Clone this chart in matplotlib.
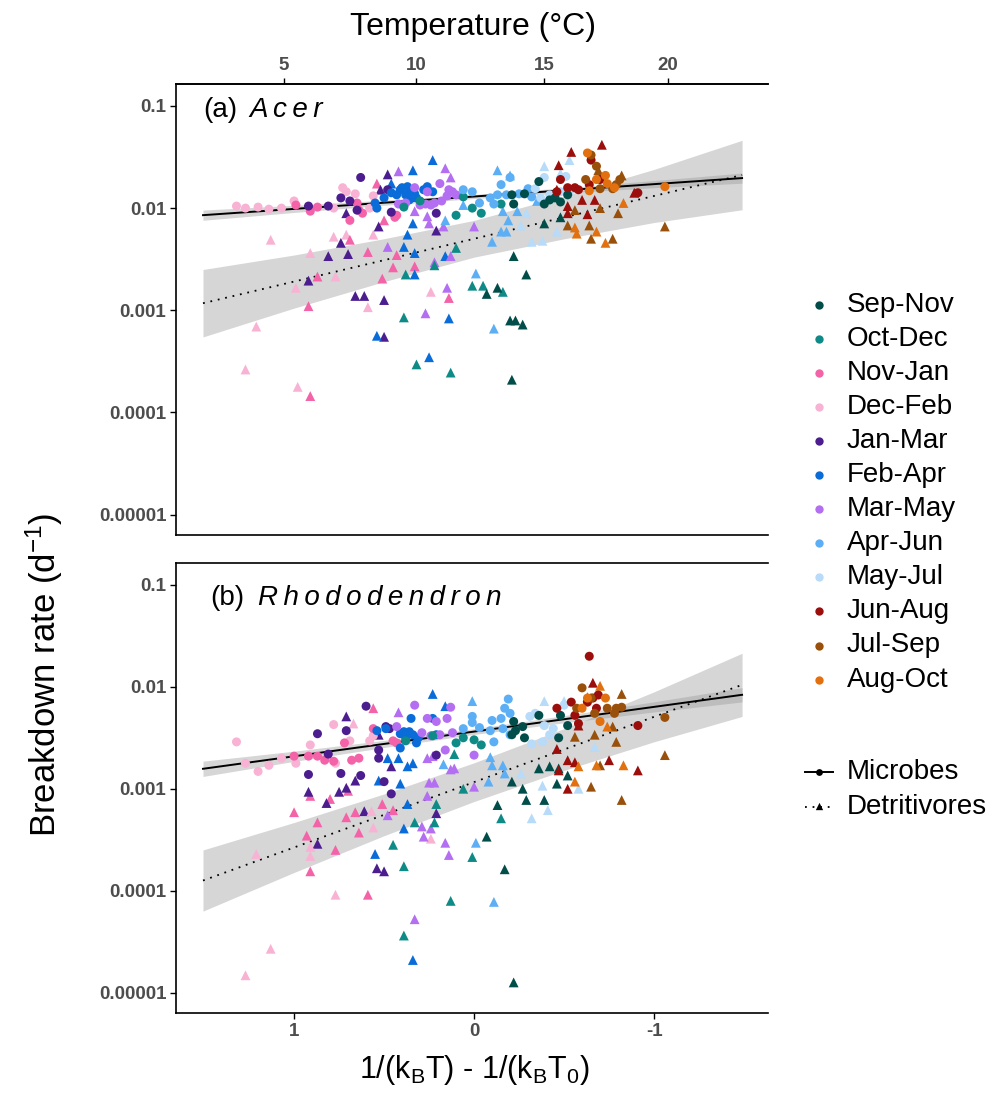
import numpy as np
import pandas as pd
import matplotlib
matplotlib.use("Agg")
import matplotlib.pyplot as plt

plt.rcParams["font.family"] = ["Liberation Sans", "DejaVu Sans"]
plt.rcParams["mathtext.fontset"] = "custom"
plt.rcParams["mathtext.rm"] = "Liberation Sans"
plt.rcParams["mathtext.default"] = "regular"

# ---------------------------------------------------------------- categories
seasons = ["Sep-Nov", "Oct-Dec", "Nov-Jan", "Dec-Feb", "Jan-Mar", "Feb-Apr",
           "Mar-May", "Apr-Jun", "May-Jul", "Jun-Aug", "Jul-Sep", "Aug-Oct"]
season_colors = ["#014D4A", "#0F8B87", "#F462A8", "#F8B3D4", "#4B1D8F", "#0A6CD9",
                 "#B46EF2", "#5CAFF5", "#B7DBF8", "#9B0E0B", "#99500B", "#E2700F"]

# ---------------------------------------------------------------- points
# (season, 1/(kBT) - 1/(kBT0), log10 breakdown rate [d-1])
acer_microbes = [
    ("Dec-Feb", 1.32, -1.98), ("Dec-Feb", 1.27, -2.00), ("Dec-Feb", 1.20, -1.99),
    ("Dec-Feb", 1.14, -2.01), ("Dec-Feb", 1.07, -2.00), ("Dec-Feb", 1.00, -1.93),
    ("Dec-Feb", 0.78, -2.00), ("Dec-Feb", 0.73, -1.80), ("Dec-Feb", 0.71, -1.84),
    ("Dec-Feb", 0.66, -1.86), ("Dec-Feb", 0.58, -2.00), ("Dec-Feb", 0.56, -1.88),
    ("Nov-Jan", 0.99, -1.97), ("Nov-Jan", 0.91, -2.03), ("Nov-Jan", 0.87, -1.99),
    ("Nov-Jan", 0.69, -2.12), ("Nov-Jan", 0.64, -2.02), ("Nov-Jan", 0.62, -2.05),
    ("Nov-Jan", 0.44, -2.09), ("Nov-Jan", 0.43, -2.07), ("Nov-Jan", 0.65, -1.95),
    ("Jan-Mar", 0.92, -1.98), ("Jan-Mar", 0.81, -1.98), ("Jan-Mar", 0.74, -1.90),
    ("Jan-Mar", 0.69, -1.93), ("Jan-Mar", 0.63, -1.70), ("Jan-Mar", 0.65, -2.02),
    ("Jan-Mar", 0.48, -1.82), ("Jan-Mar", 0.21, -2.05), ("Jan-Mar", 0.46, -2.04),
    ("Feb-Apr", 0.54, -2.00), ("Feb-Apr", 0.50, -1.90), ("Feb-Apr", 0.46, -1.85),
    ("Feb-Apr", 0.41, -1.82), ("Feb-Apr", 0.38, -1.87), ("Feb-Apr", 0.37, -1.79),
    ("Feb-Apr", 0.35, -1.84), ("Feb-Apr", 0.32, -1.90), ("Feb-Apr", 0.28, -1.82),
    ("Feb-Apr", 0.23, -1.84), ("Feb-Apr", 0.43, -1.87), ("Feb-Apr", 0.40, -1.80),
    ("Feb-Apr", 0.36, -1.92), ("Feb-Apr", 0.33, -1.86), ("Feb-Apr", 0.55, -1.95),
    ("Feb-Apr", 0.26, -1.79),
    ("Mar-May", 0.26, -1.84), ("Mar-May", 0.24, -1.97), ("Mar-May", 0.19, -1.76),
    ("Mar-May", 0.15, -1.88), ("Mar-May", 0.12, -1.84), ("Mar-May", 0.38, -1.95),
    ("Mar-May", 0.30, -1.97), ("Mar-May", 0.27, -1.96), ("Mar-May", 0.22, -1.95),
    ("Mar-May", 0.18, -1.93), ("Mar-May", 0.42, -1.96), ("Mar-May", 0.14, -1.82),
    ("Mar-May", 0.10, -1.87), ("Mar-May", 0.33, -1.80),
    ("Oct-Dec", 0.39, -1.99), ("Oct-Dec", 0.06, -1.89), ("Oct-Dec", 0.10, -2.07),
    ("Oct-Dec", 0.30, -1.93), ("Oct-Dec", -0.04, -2.05), ("Oct-Dec", -0.15, -1.96),
    ("Oct-Dec", 0.01, -2.00),
    ("Apr-Jun", 0.06, -1.82), ("Apr-Jun", 0.01, -1.84), ("Apr-Jun", -0.09, -1.90),
    ("Apr-Jun", -0.13, -1.87), ("Apr-Jun", -0.15, -1.77), ("Apr-Jun", -0.18, -1.87),
    ("Apr-Jun", -0.25, -1.86), ("Apr-Jun", -0.30, -1.81), ("Apr-Jun", -0.32, -1.89),
    ("Apr-Jun", -0.20, -1.70), ("Apr-Jun", -0.11, -1.96), ("Apr-Jun", -0.03, -1.95),
    ("May-Jul", -0.34, -1.81), ("May-Jul", -0.39, -1.70), ("May-Jul", -0.42, -1.87),
    ("May-Jul", -0.51, -1.69), ("May-Jul", -0.53, -1.84), ("May-Jul", -0.48, -1.84),
    ("May-Jul", -0.37, -1.90),
    ("Sep-Nov", -0.21, -1.87), ("Sep-Nov", -0.22, -1.96), ("Sep-Nov", -0.36, -1.74),
    ("Sep-Nov", -0.39, -1.96), ("Sep-Nov", -0.45, -1.90), ("Sep-Nov", -0.48, -1.94),
    ("Sep-Nov", -0.52, -1.87), ("Sep-Nov", -0.28, -1.86), ("Sep-Nov", -0.42, -1.92),
    ("Jun-Aug", -0.46, -1.84), ("Jun-Aug", -0.48, -1.72), ("Jun-Aug", -0.56, -1.80),
    ("Jun-Aug", -0.64, -1.77), ("Jun-Aug", -0.65, -1.53), ("Jun-Aug", -0.70, -1.72),
    ("Jun-Aug", -0.91, -1.85), ("Jun-Aug", -0.58, -1.82), ("Jun-Aug", -0.52, -1.80),
    ("Jul-Sep", -0.65, -1.48), ("Jul-Sep", -0.68, -1.59), ("Jul-Sep", -0.62, -1.72),
    ("Jul-Sep", -0.79, -1.77), ("Jul-Sep", -0.81, -1.72), ("Jul-Sep", -0.77, -1.81),
    ("Jul-Sep", -0.70, -1.81),
    ("Aug-Oct", -0.63, -1.46), ("Aug-Oct", -0.73, -1.68), ("Aug-Oct", -0.74, -1.76),
    ("Aug-Oct", -1.06, -1.79), ("Aug-Oct", -0.64, -1.83), ("Aug-Oct", -0.78, -1.80),
    ("Aug-Oct", -0.68, -1.72),
]

acer_detritivores = [
    ("Dec-Feb", 1.13, -2.31), ("Dec-Feb", 0.78, -2.28), ("Dec-Feb", 0.71, -2.26),
    ("Dec-Feb", 0.56, -2.26), ("Dec-Feb", 1.27, -3.58), ("Dec-Feb", 1.21, -3.16),
    ("Dec-Feb", 0.98, -3.75), ("Dec-Feb", 0.99, -2.78), ("Dec-Feb", 0.77, -2.67),
    ("Dec-Feb", 0.91, -2.44), ("Dec-Feb", 0.59, -2.97), ("Dec-Feb", 0.24, -2.82),
    ("Nov-Jan", 0.69, -2.31), ("Nov-Jan", 0.54, -1.76), ("Nov-Jan", 0.50, -2.12),
    ("Nov-Jan", 0.91, -3.84), ("Nov-Jan", 0.92, -2.96), ("Nov-Jan", 0.87, -2.67),
    ("Nov-Jan", 0.59, -2.43), ("Nov-Jan", 0.51, -2.69), ("Nov-Jan", 0.45, -2.58),
    ("Nov-Jan", 0.43, -2.46), ("Nov-Jan", 0.33, -2.57), ("Nov-Jan", 0.14, -2.88),
    ("Jan-Mar", 0.53, -2.18), ("Jan-Mar", 0.48, -1.67), ("Jan-Mar", 0.52, -1.82),
    ("Jan-Mar", 0.74, -2.34), ("Jan-Mar", 0.71, -2.05), ("Jan-Mar", 0.21, -2.22),
    ("Jan-Mar", 0.92, -2.71), ("Jan-Mar", 0.81, -2.47), ("Jan-Mar", 0.70, -2.45),
    ("Jan-Mar", 0.66, -2.86), ("Jan-Mar", 0.61, -2.86), ("Jan-Mar", 0.50, -2.90),
    ("Jan-Mar", 0.50, -3.26),
    ("Feb-Apr", 0.23, -1.53), ("Feb-Apr", 0.34, -1.63), ("Feb-Apr", 0.46, -1.76),
    ("Feb-Apr", 0.34, -2.15), ("Feb-Apr", 0.37, -2.26), ("Feb-Apr", 0.39, -2.38),
    ("Feb-Apr", 0.33, -2.44), ("Feb-Apr", 0.33, -2.65), ("Feb-Apr", 0.16, -2.47),
    ("Feb-Apr", 0.14, -3.08), ("Feb-Apr", 0.54, -3.25), ("Feb-Apr", 0.25, -3.46),
    ("Mar-May", 0.42, -1.64), ("Mar-May", 0.16, -1.61), ("Mar-May", 0.13, -1.70),
    ("Mar-May", 0.33, -2.03), ("Mar-May", 0.26, -2.08), ("Mar-May", 0.25, -2.15),
    ("Mar-May", 0.17, -2.18), ("Mar-May", 0.48, -2.38), ("Mar-May", 0.22, -2.53),
    ("Mar-May", 0.13, -2.47), ("Mar-May", 0.15, -2.78), ("Mar-May", 0.27, -3.03),
    ("Mar-May", 0.00, -2.18),
    ("Oct-Dec", 0.10, -2.39), ("Oct-Dec", 0.38, -2.65), ("Oct-Dec", 0.22, -2.56),
    ("Oct-Dec", 0.39, -3.07), ("Oct-Dec", 0.32, -3.53), ("Oct-Dec", 0.13, -3.61),
    ("Oct-Dec", 0.01, -2.76), ("Oct-Dec", -0.05, -2.76), ("Oct-Dec", -0.16, -2.82),
    ("Apr-Jun", 0.16, -2.12), ("Apr-Jun", 0.06, -1.97), ("Apr-Jun", -0.01, -2.64),
    ("Apr-Jun", -0.11, -3.18), ("Apr-Jun", -0.13, -1.63), ("Apr-Jun", -0.20, -1.68),
    ("Apr-Jun", -0.10, -2.33), ("Apr-Jun", -0.15, -2.23), ("Apr-Jun", -0.18, -2.23),
    ("Apr-Jun", -0.19, -2.12), ("Apr-Jun", -0.24, -2.03), ("Apr-Jun", -0.16, -2.03),
    ("Apr-Jun", -0.35, -1.93),
    ("Sep-Nov", -0.07, -2.84), ("Sep-Nov", -0.13, -2.78), ("Sep-Nov", -0.22, -2.47),
    ("Sep-Nov", -0.29, -2.65), ("Sep-Nov", -0.20, -3.10), ("Sep-Nov", -0.23, -3.10),
    ("Sep-Nov", -0.27, -3.14), ("Sep-Nov", -0.21, -3.68), ("Sep-Nov", -0.39, -2.15),
    ("Sep-Nov", -0.48, -2.09),
    ("May-Jul", -0.53, -1.53), ("May-Jul", -0.39, -1.59), ("May-Jul", -0.32, -2.33),
    ("May-Jul", -0.38, -2.32), ("May-Jul", -0.26, -2.17), ("May-Jul", -0.46, -2.23),
    ("May-Jul", -0.29, -2.05), ("May-Jul", -0.48, -1.66),
    ("Jun-Aug", -0.71, -1.38), ("Jun-Aug", -0.54, -1.45), ("Jun-Aug", -0.47, -1.58),
    ("Jun-Aug", -0.46, -1.82), ("Jun-Aug", -0.60, -1.92), ("Jun-Aug", -0.52, -1.98),
    ("Jun-Aug", -0.52, -2.05), ("Jun-Aug", -0.67, -1.92), ("Jun-Aug", -0.63, -2.06),
    ("Jun-Aug", -0.89, -1.85),
    ("Jul-Sep", -0.82, -1.68), ("Jul-Sep", -0.69, -1.63), ("Jul-Sep", -0.56, -2.02),
    ("Jul-Sep", -0.70, -2.00), ("Jul-Sep", -0.64, -2.17), ("Jul-Sep", -0.80, -2.05),
    ("Jul-Sep", -0.77, -2.30), ("Jul-Sep", -0.65, -2.30), ("Jul-Sep", -1.06, -2.18),
    ("Jul-Sep", -0.52, -2.17),
    ("Aug-Oct", -0.83, -1.95), ("Aug-Oct", -0.57, -2.25), ("Aug-Oct", -0.68, -2.23),
    ("Aug-Oct", -0.73, -2.34), ("Aug-Oct", -0.56, -2.19),
]

rhodo_microbes = [
    ("Dec-Feb", 1.32, -2.54), ("Dec-Feb", 1.27, -2.75), ("Dec-Feb", 1.20, -2.83),
    ("Dec-Feb", 1.14, -2.77), ("Dec-Feb", 1.07, -2.70), ("Dec-Feb", 0.99, -2.75),
    ("Dec-Feb", 0.91, -2.57), ("Dec-Feb", 0.78, -2.37), ("Dec-Feb", 0.82, -2.70),
    ("Dec-Feb", 0.77, -2.75), ("Dec-Feb", 0.69, -2.53), ("Dec-Feb", 0.58, -2.53),
    ("Dec-Feb", 0.56, -2.48),
    ("Nov-Jan", 1.00, -2.68), ("Nov-Jan", 0.92, -2.68), ("Nov-Jan", 0.87, -2.68),
    ("Nov-Jan", 0.83, -2.72), ("Nov-Jan", 0.78, -2.73), ("Nov-Jan", 0.72, -2.55),
    ("Nov-Jan", 0.68, -2.72), ("Nov-Jan", 0.64, -2.70), ("Nov-Jan", 0.56, -2.41),
    ("Nov-Jan", 0.45, -2.53), ("Nov-Jan", 0.43, -2.55),
    ("Jan-Mar", 0.60, -2.19), ("Jan-Mar", 0.87, -2.46), ("Jan-Mar", 0.71, -2.43),
    ("Jan-Mar", 0.81, -2.66), ("Jan-Mar", 0.92, -2.86), ("Jan-Mar", 0.74, -2.85),
    ("Jan-Mar", 0.63, -2.87), ("Jan-Mar", 0.53, -2.62), ("Jan-Mar", 0.53, -2.70),
    ("Jan-Mar", 0.49, -2.39), ("Jan-Mar", 0.47, -2.41), ("Jan-Mar", 0.21, -2.67),
    ("Jan-Mar", 0.50, -2.93), ("Jan-Mar", 0.46, -3.05),
    ("Feb-Apr", 0.54, -2.43), ("Feb-Apr", 0.49, -2.41), ("Feb-Apr", 0.41, -2.46),
    ("Feb-Apr", 0.39, -2.44), ("Feb-Apr", 0.36, -2.44), ("Feb-Apr", 0.34, -2.47),
    ("Feb-Apr", 0.31, -2.50), ("Feb-Apr", 0.35, -2.31), ("Feb-Apr", 0.23, -2.31),
    ("Feb-Apr", 0.41, -2.60), ("Feb-Apr", 0.32, -2.55), ("Feb-Apr", 0.21, -2.47),
    ("Feb-Apr", 0.38, -2.50),
    ("Mar-May", 0.43, -2.39), ("Mar-May", 0.33, -2.18), ("Mar-May", 0.26, -2.31),
    ("Mar-May", 0.21, -2.34), ("Mar-May", 0.15, -2.31), ("Mar-May", 0.13, -2.20),
    ("Mar-May", 0.19, -2.47), ("Mar-May", 0.16, -2.62), ("Mar-May", 0.29, -2.45),
    ("Mar-May", 0.12, -2.45), ("Mar-May", 0.24, -2.48), ("Mar-May", 0.00, -2.67),
    ("Oct-Dec", 0.38, -2.53), ("Oct-Dec", 0.23, -2.48), ("Oct-Dec", 0.10, -2.55),
    ("Oct-Dec", 0.00, -2.52), ("Oct-Dec", -0.04, -2.57), ("Oct-Dec", 0.06, -2.50),
    ("Apr-Jun", 0.06, -2.41), ("Apr-Jun", 0.01, -2.29), ("Apr-Jun", 0.01, -2.35),
    ("Apr-Jun", -0.10, -2.33), ("Apr-Jun", -0.15, -2.31), ("Apr-Jun", -0.17, -2.21),
    ("Apr-Jun", -0.19, -2.12), ("Apr-Jun", -0.20, -2.26), ("Apr-Jun", -0.16, -2.41),
    ("Apr-Jun", -0.09, -2.43), ("Apr-Jun", -0.11, -2.54), ("Apr-Jun", -0.20, -2.47),
    ("Apr-Jun", -0.03, -2.40),
    ("May-Jul", -0.31, -2.29), ("May-Jul", -0.34, -2.26), ("May-Jul", -0.32, -2.56),
    ("May-Jul", -0.38, -2.54), ("May-Jul", -0.39, -2.38), ("May-Jul", -0.42, -2.47),
    ("May-Jul", -0.44, -2.41), ("May-Jul", -0.50, -2.18),
    ("Sep-Nov", -0.22, -2.34), ("Sep-Nov", -0.23, -2.43), ("Sep-Nov", -0.27, -2.39),
    ("Sep-Nov", -0.28, -2.50), ("Sep-Nov", -0.36, -2.28), ("Sep-Nov", -0.47, -2.50),
    ("Sep-Nov", -0.48, -2.28), ("Sep-Nov", -0.52, -2.38), ("Sep-Nov", -0.21, -2.47),
    ("Jun-Aug", -0.64, -1.70), ("Jun-Aug", -0.46, -2.21), ("Jun-Aug", -0.54, -2.15),
    ("Jun-Aug", -0.58, -2.36), ("Jun-Aug", -0.68, -2.21), ("Jun-Aug", -0.66, -2.11),
    ("Jun-Aug", -0.91, -2.38), ("Jun-Aug", -0.69, -2.08), ("Jun-Aug", -0.63, -2.15),
    ("Jun-Aug", -0.56, -2.28),
    ("Jul-Sep", -0.60, -2.01), ("Jul-Sep", -0.65, -2.11), ("Jul-Sep", -0.74, -2.21),
    ("Jul-Sep", -0.79, -2.21), ("Jul-Sep", -0.82, -2.20), ("Jul-Sep", -0.78, -2.26),
    ("Jul-Sep", -0.67, -2.26), ("Jul-Sep", -1.06, -2.30), ("Jul-Sep", -0.57, -2.21),
    ("Aug-Oct", -0.73, -2.11), ("Aug-Oct", -0.63, -2.11), ("Aug-Oct", -0.60, -2.21),
    ("Aug-Oct", -0.70, -2.34),
]

rhodo_detritivores = [
    ("Nov-Jan", 0.56, -2.21), ("Nov-Jan", 0.91, -3.07), ("Nov-Jan", 0.80, -3.10),
    ("Nov-Jan", 0.70, -3.02), ("Nov-Jan", 1.00, -3.23), ("Nov-Jan", 0.87, -3.33),
    ("Nov-Jan", 0.93, -3.46), ("Nov-Jan", 0.91, -3.81), ("Nov-Jan", 0.77, -3.60),
    ("Nov-Jan", 0.71, -3.28), ("Nov-Jan", 0.66, -3.23), ("Nov-Jan", 0.64, -3.43),
    ("Nov-Jan", 0.51, -3.15), ("Nov-Jan", 0.45, -3.21), ("Nov-Jan", 0.59, -4.04),
    ("Jan-Mar", 0.71, -2.29), ("Jan-Mar", 0.53, -2.47), ("Jan-Mar", 0.46, -2.78),
    ("Jan-Mar", 0.92, -3.03), ("Jan-Mar", 0.82, -3.14), ("Jan-Mar", 0.75, -3.03),
    ("Jan-Mar", 0.71, -2.99), ("Jan-Mar", 0.66, -2.92), ("Jan-Mar", 0.87, -3.54),
    ("Jan-Mar", 0.61, -3.22), ("Jan-Mar", 0.54, -3.78), ("Jan-Mar", 0.50, -3.81),
    ("Jan-Mar", 0.21, -3.24),
    ("Dec-Feb", 0.67, -2.36), ("Dec-Feb", 0.91, -3.57), ("Dec-Feb", 0.91, -3.66),
    ("Dec-Feb", 1.21, -3.64), ("Dec-Feb", 0.57, -3.22), ("Dec-Feb", 0.56, -3.38),
    ("Dec-Feb", 0.24, -3.49), ("Dec-Feb", 0.77, -4.04), ("Dec-Feb", 1.13, -4.57),
    ("Dec-Feb", 1.27, -4.83),
    ("Mar-May", 0.42, -2.25), ("Mar-May", 0.26, -2.70), ("Mar-May", 0.23, -2.68),
    ("Mar-May", 0.13, -2.81), ("Mar-May", 0.11, -2.80), ("Mar-May", 0.48, -3.26),
    ("Mar-May", 0.29, -3.37), ("Mar-May", 0.24, -3.39), ("Mar-May", 0.28, -3.47),
    ("Mar-May", 0.26, -3.07), ("Mar-May", 0.25, -2.94), ("Mar-May", 0.22, -2.94),
    ("Mar-May", 0.16, -3.53), ("Mar-May", 0.14, -3.65), ("Mar-May", 0.33, -4.28),
    ("Mar-May", 0.00, -2.98),
    ("Feb-Apr", 0.23, -2.07), ("Feb-Apr", 0.16, -2.19), ("Feb-Apr", 0.48, -2.70),
    ("Feb-Apr", 0.42, -2.70), ("Feb-Apr", 0.37, -2.78), ("Feb-Apr", 0.34, -2.75),
    ("Feb-Apr", 0.53, -2.92), ("Feb-Apr", 0.41, -2.95), ("Feb-Apr", 0.37, -3.15),
    ("Feb-Apr", 0.39, -3.39), ("Feb-Apr", 0.55, -3.64), ("Feb-Apr", 0.34, -4.68),
    ("Oct-Dec", 0.11, -2.66), ("Oct-Dec", 0.33, -3.33), ("Oct-Dec", 0.21, -3.15),
    ("Oct-Dec", 0.22, -3.33), ("Oct-Dec", 0.45, -3.55), ("Oct-Dec", 0.39, -3.76),
    ("Oct-Dec", 0.13, -4.10), ("Oct-Dec", 0.39, -4.44), ("Oct-Dec", 0.06, -3.00),
    ("Oct-Dec", 0.01, -3.67), ("Oct-Dec", -0.15, -3.29),
    ("Apr-Jun", 0.17, -2.76), ("Apr-Jun", -0.01, -3.53), ("Apr-Jun", -0.11, -4.11),
    ("Apr-Jun", 0.01, -2.14), ("Apr-Jun", -0.09, -2.69), ("Apr-Jun", -0.10, -2.77),
    ("Apr-Jun", -0.16, -2.77), ("Apr-Jun", -0.08, -2.93), ("Apr-Jun", -0.17, -2.85),
    ("Sep-Nov", -0.17, -3.79), ("Sep-Nov", -0.22, -4.90), ("Sep-Nov", -0.36, -2.80),
    ("Sep-Nov", -0.42, -2.78), ("Sep-Nov", -0.47, -2.80), ("Sep-Nov", -0.52, -2.87),
    ("Sep-Nov", -0.46, -2.95), ("Sep-Nov", -0.21, -2.93), ("Sep-Nov", -0.27, -3.00),
    ("Sep-Nov", -0.29, -3.11), ("Sep-Nov", -0.39, -3.11), ("Sep-Nov", -0.13, -3.16),
    ("Sep-Nov", -0.07, -3.47),
    ("May-Jul", -0.39, -2.14), ("May-Jul", -0.67, -2.59), ("May-Jul", -0.50, -2.14),
    ("May-Jul", -0.38, -2.97), ("May-Jul", -0.41, -3.21), ("May-Jul", -0.32, -3.29),
    ("May-Jul", -0.26, -2.85), ("May-Jul", -0.58, -3.00),
    ("Jun-Aug", -0.66, -1.96), ("Jun-Aug", -0.46, -2.61), ("Jun-Aug", -0.52, -2.72),
    ("Jun-Aug", -0.56, -2.74), ("Jun-Aug", -0.47, -2.82), ("Jun-Aug", -0.52, -3.00),
    ("Jun-Aug", -0.75, -2.72), ("Jun-Aug", -0.91, -2.82), ("Jun-Aug", -0.58, -2.38),
    ("Jul-Sep", -0.82, -2.07), ("Jul-Sep", -0.56, -2.49), ("Jul-Sep", -0.67, -2.47),
    ("Jul-Sep", -0.77, -2.39), ("Jul-Sep", -0.79, -2.54), ("Jul-Sep", -1.06, -2.67),
    ("Jul-Sep", -0.70, -2.77), ("Jul-Sep", -0.65, -2.98), ("Jul-Sep", -0.82, -3.11),
    ("Aug-Oct", -0.70, -1.99), ("Aug-Oct", -0.63, -2.10), ("Aug-Oct", -0.74, -2.39),
    ("Aug-Oct", -0.68, -2.77), ("Aug-Oct", -0.83, -2.77), ("Aug-Oct", -0.58, -2.78),
    ("Aug-Oct", -0.56, -2.93),
]

# ---------------------------------------------------------------- fitted lines
# log10 k = intercept + slope * x, drawn over 2..23 degC
fit_x = [1.506, 1.0, 0.5, 0.0, -0.5, -1.0, -1.489]
acer_mic_fit = (-1.8865, -0.1212)
acer_det_fit = (-2.300, -0.4190)
rhodo_mic_fit = (-2.439, -0.2424)
rhodo_det_fit = (-2.935, -0.6410)
# confidence band half-width (log10 units) at fit_x
acer_mic_hw = [0.05, 0.035, 0.025, 0.02, 0.025, 0.035, 0.05]
acer_det_hw = [0.33, 0.26, 0.21, 0.18, 0.21, 0.26, 0.34]
rhodo_mic_hw = [0.075, 0.05, 0.035, 0.028, 0.035, 0.05, 0.07]
rhodo_det_hw = [0.30, 0.245, 0.205, 0.19, 0.205, 0.245, 0.31]

ytick_vals = [1e-5, 1e-4, 1e-3, 1e-2, 1e-1]
ytick_labels = ["0.00001", "0.0001", "0.001", "0.01", "0.1"]
xtick_vals = [1, 0, -1]
temp_ticks = [5, 10, 15, 20]

KB = 8.617e-5
T0 = 285.39  # reference temperature (K)


def x_to_temp(x):
    x = np.asarray(x, dtype=float)
    return 1.0 / (KB * (x + 1.0 / (KB * T0))) - 273.15


def temp_to_x(t):
    t = np.asarray(t, dtype=float)
    return 1.0 / (KB * (t + 273.15)) - 1.0 / (KB * T0)


color_of = dict(zip(seasons, season_colors))
TICK_COL = "#4D4D4D"


def draw_panel(ax, mic, det, mic_fit, det_fit, mic_hw, det_hw):
    fx = np.array(fit_x)
    for fit, hw in ((det_fit, det_hw), (mic_fit, mic_hw)):
        c = fit[0] + fit[1] * fx
        ax.fill_between(fx, 10 ** (c - np.array(hw)), 10 ** (c + np.array(hw)),
                        color="#999999", alpha=0.4, linewidth=0, zorder=1)
    c = mic_fit[0] + mic_fit[1] * fx
    ax.plot(fx, 10 ** c, color="black", lw=1.4, zorder=2)
    c = det_fit[0] + det_fit[1] * fx
    ax.plot(fx, 10 ** c, color="black", lw=1.3, linestyle=(0, (1, 3.2)), zorder=2)

    d = pd.DataFrame(det, columns=["season", "x", "logk"])
    m = pd.DataFrame(mic, columns=["season", "x", "logk"])
    ax.scatter(d["x"], 10 ** d["logk"], c=d["season"].map(color_of), marker="^",
               s=50, linewidths=0, zorder=3)
    ax.scatter(m["x"], 10 ** m["logk"], c=m["season"].map(color_of), marker="o",
               s=42, linewidths=0, zorder=3)

    ax.set_yscale("log")
    ax.set_ylim(10 ** -5.2, 10 ** -0.785)
    ax.set_xlim(1.656, -1.633)
    ax.set_yticks(ytick_vals)
    ax.set_yticklabels(ytick_labels)
    ax.minorticks_off()
    ax.set_xticks(xtick_vals)
    ax.set_xticklabels([str(v) for v in xtick_vals])
    ax.spines["right"].set_visible(False)
    for s in ("left", "bottom", "top"):
        ax.spines[s].set_linewidth(1.2)
    ax.tick_params(axis="both", direction="out", length=4, width=1.0,
                   colors="black", labelcolor=TICK_COL, labelsize=13.5, pad=3)
    for lab in ax.get_yticklabels() + ax.get_xticklabels():
        lab.set_fontweight("bold")


fig = plt.figure(figsize=(9.9, 10.99), dpi=100)
W, H = 990.0, 1099.0
ax_a = fig.add_axes([176 / W, 1 - 535 / H, 592 / W, 451 / H])
ax_b = fig.add_axes([176 / W, 1 - 1013 / H, 592 / W, 450 / H])

draw_panel(ax_a, acer_microbes, acer_detritivores, acer_mic_fit, acer_det_fit,
           acer_mic_hw, acer_det_hw)
draw_panel(ax_b, rhodo_microbes, rhodo_detritivores, rhodo_mic_fit, rhodo_det_fit,
           rhodo_mic_hw, rhodo_det_hw)
ax_a.tick_params(axis="x", bottom=False, labelbottom=False)

sec = ax_a.secondary_xaxis("top", functions=(x_to_temp, temp_to_x))
sec.set_xticks(temp_ticks)
sec.set_xticklabels([str(t) for t in temp_ticks])
sec.tick_params(direction="out", length=4, width=1.0, labelcolor=TICK_COL,
                labelsize=13.5, pad=3)
sec.spines["top"].set_linewidth(1.2)
for lab in sec.get_xticklabels():
    lab.set_fontweight("bold")

# panel titles
TS = "\u2009"
fig.text(203 / W, 1 - 110 / H, "(a)", fontsize=20, va="center", ha="left")
fig.text(249 / W, 1 - 110 / H, TS.join("Acer"), fontsize=20, style="italic",
         va="center", ha="left")
fig.text(210 / W, 1 - 598 / H, "(b)", fontsize=20, va="center", ha="left")
fig.text(258 / W, 1 - 598 / H, TS.join("Rhododendron"), fontsize=20, style="italic",
         va="center", ha="left")

# axis titles
fig.text(473 / W, 1 - 27 / H, "Temperature (\u00b0C)", fontsize=23, ha="center", va="center")
fig.text(474 / W, 1 - 1070 / H, r"1/(k$_B$T) - 1/(k$_B$T$_0$)", fontsize=22,
         ha="center", va="center")
fig.text(44 / W, 1 - 675 / H, r"Breakdown rate (d$^{-1}$)", fontsize=25,
         rotation=90, ha="center", va="center")

# legend
lax = fig.add_axes([0, 0, 1, 1])
lax.set_xlim(0, W)
lax.set_ylim(H, 0)
lax.axis("off")
for i, (name, col) in enumerate(zip(seasons, season_colors)):
    yy = 304.5 + i * 34.1
    lax.scatter([819], [yy], s=36, color=col, linewidths=0)
    lax.text(847, yy, name, fontsize=20, va="center", ha="left")
lax.plot([805, 833], [772, 772], color="black", lw=1.4)
lax.scatter([819], [772], s=24, color="black", marker="o", linewidths=0)
lax.plot([805, 833], [807, 807], color="black", lw=1.3, linestyle=(0, (1, 3.2)))
lax.scatter([819], [806], s=28, color="black", marker="^", linewidths=0)
lax.text(847, 772, "Microbes", fontsize=20, va="center", ha="left")
lax.text(847, 807, "Detritivores", fontsize=20, va="center", ha="left")

fig.savefig("out.png", dpi=100)
